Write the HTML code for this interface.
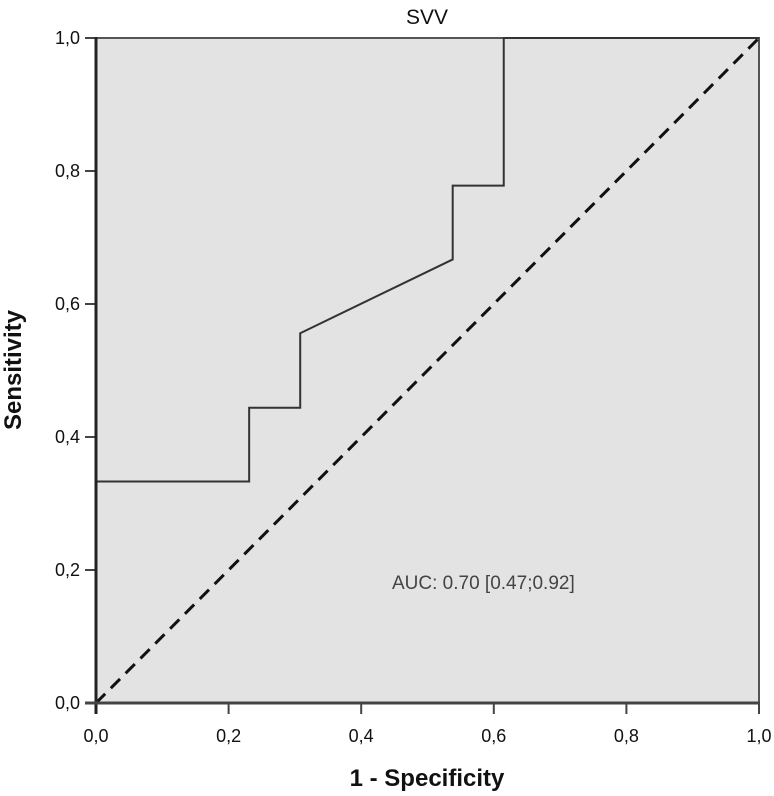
<!DOCTYPE html>
<html><head><meta charset="utf-8"><style>
body{margin:0;background:#fff;}
svg{display:block;font-family:"Liberation Sans",sans-serif;}
</style></head><body>
<svg id="chart" width="774" height="796">
<text x="427" y="24" font-size="21" text-anchor="middle" fill="#111">SVV</text>
<rect x="96" y="38" width="663" height="665" fill="#e3e3e3" stroke="#555" stroke-width="2"/>
<g id="axes"></g>
<line id="diag" stroke="#111" stroke-width="3" stroke-dasharray="13,8"/>
<path id="roc" fill="none" stroke="#333" stroke-width="2"/>
<line x1="96" y1="37" x2="96" y2="714" stroke="#222" stroke-width="3"/>
<line x1="85" y1="703" x2="760" y2="703" stroke="#444" stroke-width="3"/>
<text x="392" y="589" font-size="19" fill="#444">AUC: 0.70 [0.47;0.92]</text>
<text x="427" y="786" font-size="24" font-weight="bold" text-anchor="middle" fill="#111">1 - Specificity</text>
<text transform="translate(21,370) rotate(-90)" font-size="24" font-weight="bold" text-anchor="middle" fill="#111">Sensitivity</text>
</svg>
<script>
const fprValues=[0,0,0.231,0.231,0.308,0.308,0.538,0.538,0.615,0.615,1];
const tprValues=[0,0.333,0.333,0.444,0.444,0.556,0.667,0.778,0.778,1,1];
const tickValues=[0,0.2,0.4,0.6,0.8,1.0];
const tickLabels=["0,0","0,2","0,4","0,6","0,8","1,0"];
const X0=96,X1=759,Y0=703,Y1=38;
const sx=v=>X0+v*(X1-X0), sy=v=>Y0-v*(Y0-Y1);
const ns="http://www.w3.org/2000/svg";
const axes=document.getElementById('axes');
tickValues.forEach((v,i)=>{
  let t=document.createElementNS(ns,'line');
  t.setAttribute('x1',sx(v));t.setAttribute('x2',sx(v));t.setAttribute('y1',703);t.setAttribute('y2',714);
  t.setAttribute('stroke','#444');t.setAttribute('stroke-width','2');
  
  
  axes.appendChild(t);
  let l=document.createElementNS(ns,'text');
  l.setAttribute('x',sx(v));l.setAttribute('y',742);l.setAttribute('text-anchor','middle');l.setAttribute('font-size','18');l.setAttribute('fill','#111');
  l.textContent=tickLabels[i];
  
  
  axes.appendChild(l);
  let t2=document.createElementNS(ns,'line');
  t2.setAttribute('x1',85);t2.setAttribute('x2',96);t2.setAttribute('y1',sy(v));t2.setAttribute('y2',sy(v));
  t2.setAttribute('stroke','#444');t2.setAttribute('stroke-width','2');
  
  
  axes.appendChild(t2);
  let l2=document.createElementNS(ns,'text');
  l2.setAttribute('x',80);l2.setAttribute('y',sy(v)+6);l2.setAttribute('text-anchor','end');l2.setAttribute('font-size','18');l2.setAttribute('fill','#111');
  l2.textContent=tickLabels[i];
  
  
  axes.appendChild(l2);
});
const d=document.getElementById('diag');
d.setAttribute('x1',sx(0));d.setAttribute('y1',sy(0));d.setAttribute('x2',sx(1));d.setAttribute('y2',sy(1));
document.getElementById('roc').setAttribute('d',fprValues.map((f,i)=>(i?'L':'M')+sx(f)+','+sy(tprValues[i])).join(' '));
</script>
</body></html>
